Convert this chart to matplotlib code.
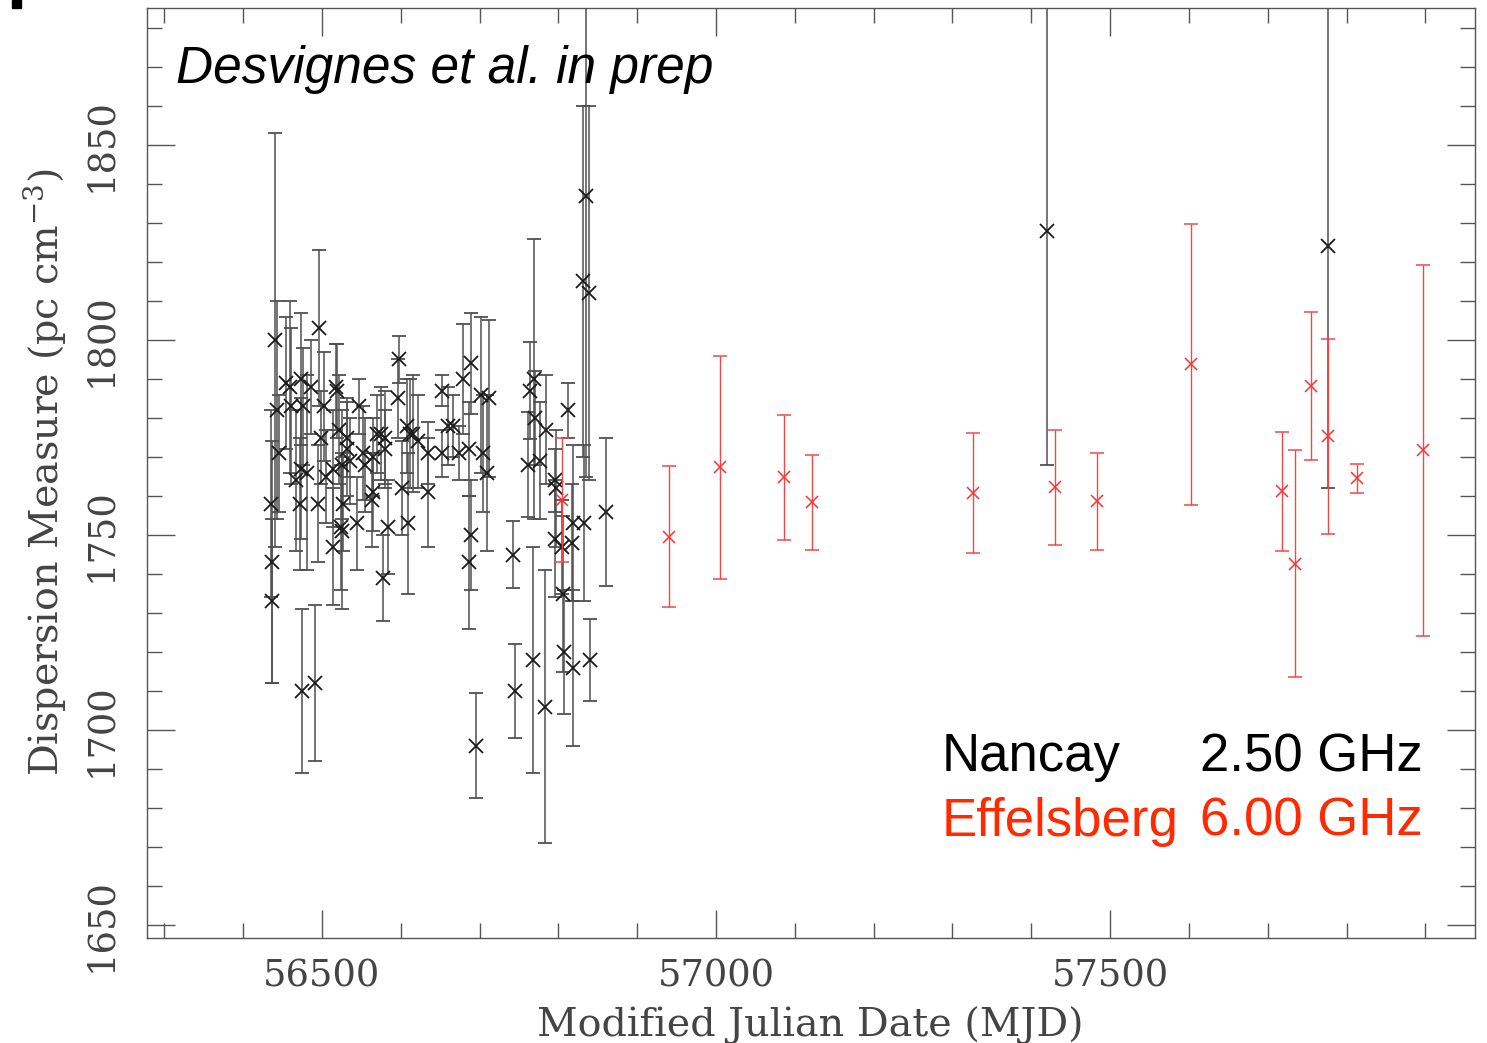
#!/usr/bin/env python3
"""
DM time series -- Nancay (2.5 GHz) and Effelsberg (6 GHz)
Values read off the published figure by eye.
"""
import matplotlib
matplotlib.use("Agg")
import matplotlib.pyplot as plt
from matplotlib.patches import Rectangle
from matplotlib.ticker import MultipleLocator

# -----------------------------
# Data
# -----------------------------

# Nancay 2.50 GHz (MJD, DM, error)
nancay_mjd = [56435, 56437, 56437, 56441, 56443, 56445, 56454, 56460, 56461, 56474,
              56476, 56486, 56474, 56481, 56467, 56472, 56475, 56491, 56496, 56495,
              56499, 56502, 56505, 56514, 56514, 56518, 56519, 56522, 56524, 56525,
              56525, 56527, 56532, 56532, 56535, 56544, 56547, 56552, 56555, 56563,
              56565, 56565, 56570, 56575, 56577, 56580, 56580, 56584, 56596, 56598,
              56602, 56608, 56609, 56612, 56616, 56622, 56635, 56635, 56652, 56652,
              56660, 56666, 56674, 56679, 56686, 56687, 56689, 56689, 56695, 56702,
              56704, 56709, 56712, 56742, 56745, 56761, 56764, 56769, 56770, 56768,
              56777, 56783, 56784, 56796, 56797, 56796, 56805, 56806, 56807, 56812,
              56817, 56818, 56818, 56831, 56832, 56835, 56839, 56840, 56860,
              57420, 57777]
nancay_dm = [1758, 1743, 1733, 1800, 1782, 1771, 1789, 1788, 1783, 1790,
             1783, 1788, 1767, 1766, 1764, 1758, 1710, 1712, 1803, 1758,
             1775, 1783, 1765, 1767, 1747, 1788, 1787, 1777, 1752, 1768,
             1751, 1758, 1775, 1772, 1769, 1753, 1783, 1771, 1768, 1759,
             1770, 1761, 1776, 1776, 1739, 1775, 1772, 1752, 1785, 1795,
             1762, 1778, 1753, 1776, 1776, 1774, 1771, 1761, 1787, 1771,
             1778, 1778, 1771, 1790, 1772, 1743, 1794, 1750, 1696, 1786,
             1771, 1766, 1785, 1745, 1710, 1768, 1787, 1790, 1780, 1718,
             1769, 1706, 1777, 1764, 1762, 1749, 1747, 1735, 1720, 1782,
             1748, 1753, 1716, 1815, 1753, 1837, 1812, 1718, 1756,
             1828, 1824]
nancay_err = [24, 31, 21, 53, 28, 15, 17, 22, 20, 17,
              15, 12, 18, 25, 18, 17, 21, 20, 20, 15,
              12, 14, 12, 15, 15, 11, 12, 14, 16, 14,
              20, 12, 10, 12, 11, 12, 7, 12, 12, 12,
              10, 10, 10, 12, 11, 12, 10, 12, 10, 6,
              12, 12, 18, 14, 15, 12, 8, 14, 4, 6,
              10, 8, 7, 14, 12, 17, 13, 14, 13.5, 20,
              15, 20, 20, 8.5, 12, 13.5, 12.5, 36, 12, 29,
              15, 35, 14, 8, 15, 15, 12, 20, 16, 7,
              15, 20, 20, 45, 20, 72, 48, 10.5, 19,
              60, 62]

# Effelsberg 6.00 GHz
effel_mjd = [56804, 56940, 57005, 57086, 57122, 57326, 57430, 57483, 57603,
             57718, 57735, 57755, 57777, 57813, 57897]
effel_dm = [1759, 1749.6, 1767.4, 1764.8, 1758.4, 1760.7, 1762.2, 1758.6, 1793.8,
            1761.2, 1742.7, 1788.2, 1775.3, 1764.5, 1771.7]
effel_err = [16, 18, 28.6, 16, 12.2, 15.4, 14.8, 12.5, 36,
             15.3, 29, 19, 25, 3.6, 47.5]

x_ticks = [56500, 57000, 57500]
y_ticks = [1650, 1700, 1750, 1800, 1850]

GREY = "#555555"
RED = "#ff2a00"

# axes box in pixels of the 1487x1043 canvas
L, R, T, B = 147, 1475, 8, 938


def ax_pos(px, py):
    """pixel position on the canvas -> axes fraction"""
    return (px - L) / (R - L), 1 - (py - T) / (B - T)


# -----------------------------
# Plot
# -----------------------------

def make_plot(out="out.png"):
    plt.rcParams["mathtext.fontset"] = "dejavuserif"
    fig = plt.figure(figsize=(14.87, 10.43), dpi=100)
    ax = fig.add_axes([L / 1487, 1 - B / 1043, (R - L) / 1487, (B - T) / 1043])

    ax.errorbar(nancay_mjd, nancay_dm, yerr=nancay_err, fmt="x", color="#1a1a1a",
                ecolor="#505050", elinewidth=1.1, capsize=5, capthick=1.1,
                ms=10, mew=1.3, zorder=3)
    ax.errorbar(effel_mjd, effel_dm, yerr=effel_err, fmt="x", color="#ff3030",
                ecolor="#f04848", elinewidth=1.0, capsize=5, capthick=1.0,
                ms=9, mew=1.1, zorder=4)

    ax.set_xlim(56278, 57963)
    ax.set_ylim(1646.7, 1885.1)

    ax.set_xticks(x_ticks)
    ax.set_yticks(y_ticks)
    ax.xaxis.set_minor_locator(MultipleLocator(100))
    ax.yaxis.set_minor_locator(MultipleLocator(10))
    ax.tick_params(which="both", direction="in", top=True, right=True,
                   color=GREY, width=1.0)
    ax.tick_params(which="major", length=20)
    ax.tick_params(which="minor", length=11)
    ax.tick_params(axis="x", which="major", pad=15, labelsize=26.5, labelcolor="#444444")
    ax.tick_params(axis="y", which="major", pad=20, labelsize=26.5, labelcolor="#444444")
    for lab in ax.get_xticklabels() + ax.get_yticklabels():
        lab.set_family("DejaVu Serif")
    for lab in ax.get_yticklabels():
        lab.set_rotation(90)
        lab.set_va("center")
    for sp in ax.spines.values():
        sp.set_color(GREY)
        sp.set_linewidth(1.0)

    # axis labels
    fig.text(810 / 1487, 1 - 1025 / 1043, "Modified Julian Date (MJD)", ha="center",
             va="center", fontsize=28.5, family="DejaVu Serif", color="#444444")
    fig.text(45 / 1487, 1 - 472 / 1043, "Dispersion Measure (pc cm$^{-3}$)",
             rotation=90, ha="center", va="center", fontsize=28.5,
             family="DejaVu Serif", color="#444444")

    # annotations
    ax.text(*ax_pos(176, 70), "Desvignes et al. in prep",
            transform=ax.transAxes, ha="left", va="center", fontsize=37,
            style="italic", family="Liberation Sans", color="black")
    ax.text(*ax_pos(942, 757), "Nancay", transform=ax.transAxes,
            ha="left", va="center", fontsize=38, family="Liberation Sans", color="black")
    ax.text(*ax_pos(1423, 757), "2.50 GHz", transform=ax.transAxes,
            ha="right", va="center", fontsize=38, family="Liberation Sans", color="black")
    ax.text(*ax_pos(942, 822), "Effelsberg", transform=ax.transAxes,
            ha="left", va="center", fontsize=38, family="Liberation Sans", color=RED)
    ax.text(*ax_pos(1423, 822), "6.00 GHz", transform=ax.transAxes,
            ha="right", va="center", fontsize=38, family="Liberation Sans", color=RED)

    # cropped panel letter in the corner of the original
    fig.patches.append(Rectangle((12 / 1487, 1 - 8 / 1043), 9 / 1487, 8 / 1043,
                                 transform=fig.transFigure, color="black"))

    fig.savefig(out, dpi=100, facecolor="white")
    plt.close(fig)


def main():
    make_plot()


if __name__ == "__main__":
    main()
